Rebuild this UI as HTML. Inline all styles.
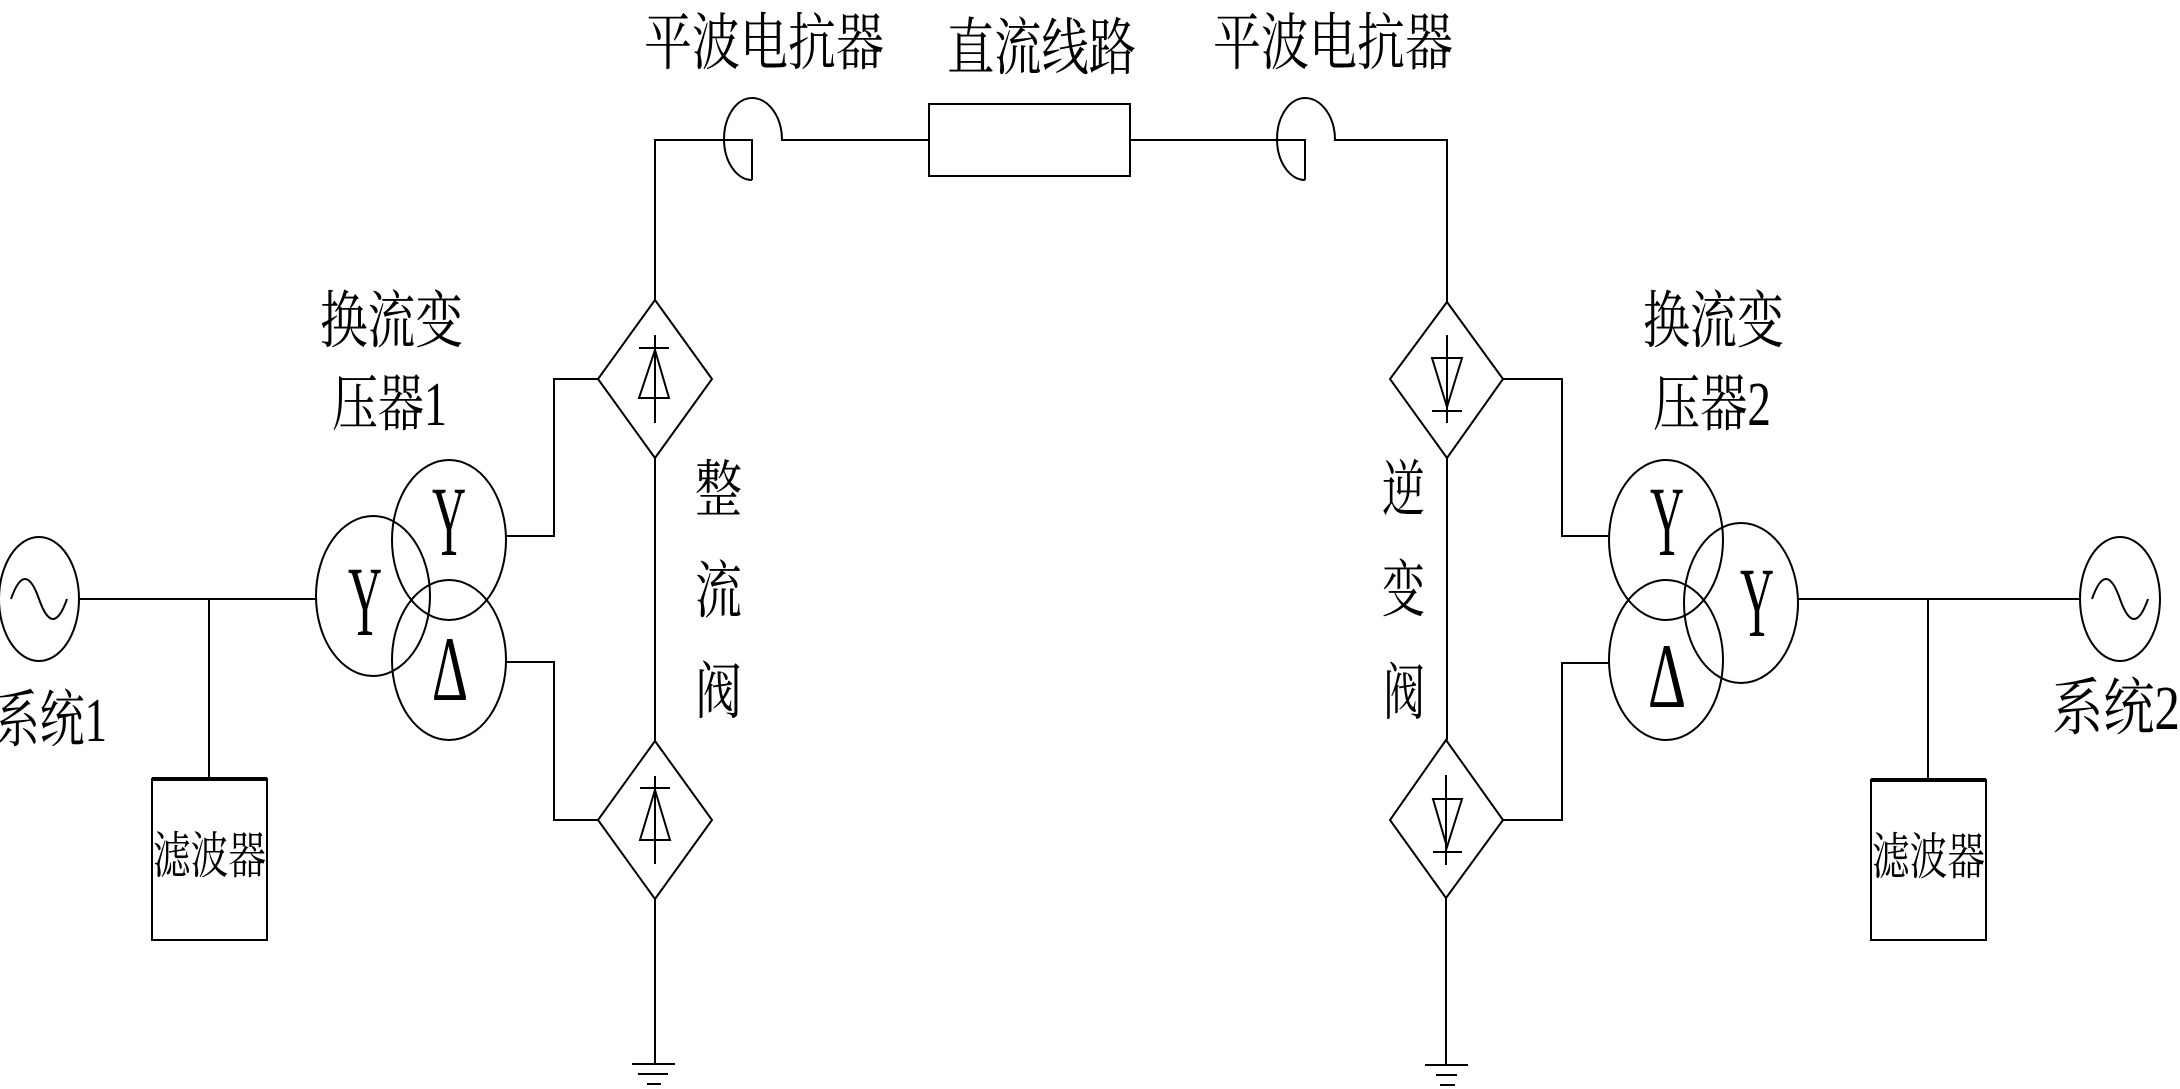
<!DOCTYPE html>
<html><head><meta charset="utf-8"><style>
html,body{margin:0;padding:0;background:#fff;}
svg{display:block;}
text{font-family:"Liberation Serif","Noto Serif CJK SC",serif;fill:#000;}
</style></head><body>
<svg width="2180" height="1089" viewBox="0 0 2180 1089" xmlns="http://www.w3.org/2000/svg">
<g fill="none" stroke="#000" stroke-width="2">
<!-- DC top -->
<path d="M655 300 V140 H752 V180"/>
<path d="M752 180 A28 41 0 0 1 752 98 A30 42 0 0 1 782 140 H929"/>
<rect x="929" y="104" width="201" height="72"/>
<path d="M1130 140 H1305 V180"/>
<path d="M1305 180 A28 41 0 0 1 1305 98 A30 42 0 0 1 1335 140 H1447 V302"/>
<!-- left valves -->
<path d="M655 300 L712 379 L655 458 L598 379 Z"/>
<path d="M655 741 L712 820 L655 899 L598 820 Z"/>
<path d="M655 458 V741 M655 899 V1064"/>
<path d="M632 1064 H675 M638 1074 H668 M647 1084 H661"/>
<path d="M655 335 V423 M639 348 H669 M655 350 L669 398 H639 Z"/>
<path d="M655 776 V864 M640 788 H670 M655 790 L670 840 H640 Z"/>
<!-- right valves -->
<path d="M1447 302 L1503 379 L1447 458 L1390 379 Z"/>
<path d="M1446 740 L1503 820 L1446 898 L1390 820 Z"/>
<path d="M1447 458 V740 M1446 898 V1065"/>
<path d="M1425 1065 H1468 M1436 1075 H1457 M1440 1085 H1455"/>
<path d="M1447 335 V423 M1432 358 H1462 L1447 407 Z M1432 411 H1462"/>
<path d="M1446 775 V865 M1433 799 H1462 L1447 847 Z M1433 852 H1462"/>
<!-- transformer 1 -->
<ellipse cx="373" cy="596" rx="57" ry="80"/>
<ellipse cx="449" cy="540" rx="57" ry="80"/>
<ellipse cx="449" cy="660" rx="57" ry="80"/>
<path d="M506 536 H554 V379 H598"/>
<path d="M506 662 H554 V820 H598"/>
<!-- transformer 2 -->
<ellipse cx="1666" cy="540" rx="57" ry="80"/>
<ellipse cx="1666" cy="660" rx="57" ry="80"/>
<ellipse cx="1741" cy="603" rx="57" ry="80"/>
<path d="M1503 379 H1562 V536 H1609"/>
<path d="M1503 820 H1562 V663 H1609"/>
<!-- AC side left -->
<ellipse cx="39" cy="599" rx="40" ry="62"/>
<path d="M11 599 Q25 559 39 599 Q53 639 67 599"/>
<path d="M79 599 H316 M209 599 V779"/>
<rect x="152" y="779" width="115" height="161"/>
<path d="M152 779 H267" stroke-width="4"/>
<!-- AC side right -->
<ellipse cx="2120" cy="599" rx="40" ry="62"/>
<path d="M2092 599 Q2106 559 2120 599 Q2134 639 2148 599"/>
<path d="M1798 599 H2080 M1928 599 V780"/>
<rect x="1871" y="780" width="115" height="160"/>
<path d="M1871 780 H1986" stroke-width="4"/>
</g>
<g dominant-baseline="central" font-size="62">
<text x="644" y="44" textLength="240" lengthAdjust="spacingAndGlyphs">平波电抗器</text>
<text x="947" y="49" textLength="189" lengthAdjust="spacingAndGlyphs">直流线路</text>
<text x="1213" y="44" textLength="240" lengthAdjust="spacingAndGlyphs">平波电抗器</text>
<text x="320" y="322" textLength="143" lengthAdjust="spacingAndGlyphs">换流变</text>
<text x="332" y="405" textLength="115" lengthAdjust="spacingAndGlyphs">压器1</text>
<text x="1643" y="322" textLength="141" lengthAdjust="spacingAndGlyphs">换流变</text>
<text x="1653" y="405" textLength="118" lengthAdjust="spacingAndGlyphs">压器2</text>
<text x="695" y="491" textLength="47" lengthAdjust="spacingAndGlyphs">整</text>
<text x="695" y="592" textLength="47" lengthAdjust="spacingAndGlyphs">流</text>
<text x="695" y="693" textLength="47" lengthAdjust="spacingAndGlyphs">阀</text>
<text x="1382" y="491" textLength="43" lengthAdjust="spacingAndGlyphs">逆</text>
<text x="1382" y="591" textLength="43" lengthAdjust="spacingAndGlyphs">变</text>
<text x="1383" y="694" textLength="42" lengthAdjust="spacingAndGlyphs">阀</text>
<text x="-5" y="721" textLength="112" lengthAdjust="spacingAndGlyphs">系统1</text>
<text x="2052" y="709" textLength="128" lengthAdjust="spacingAndGlyphs">系统2</text>
<text x="153" y="856" font-size="50" textLength="113" lengthAdjust="spacingAndGlyphs">滤波器</text>
<text x="1872" y="857" font-size="50" textLength="113" lengthAdjust="spacingAndGlyphs">滤波器</text>
</g>
<g font-size="100">
<text x="432" y="555" textLength="34" lengthAdjust="spacingAndGlyphs">Y</text>
<text x="348" y="635" textLength="34" lengthAdjust="spacingAndGlyphs">Y</text>
<text x="1650" y="555" textLength="34" lengthAdjust="spacingAndGlyphs">Y</text>
<text x="1740" y="636" textLength="34" lengthAdjust="spacingAndGlyphs">Y</text>
<text x="432" y="700" font-size="92" textLength="36" lengthAdjust="spacingAndGlyphs">Δ</text>
<text x="1648" y="707" font-size="92" textLength="38" lengthAdjust="spacingAndGlyphs">Δ</text>
</g>
</svg>
</body></html>
